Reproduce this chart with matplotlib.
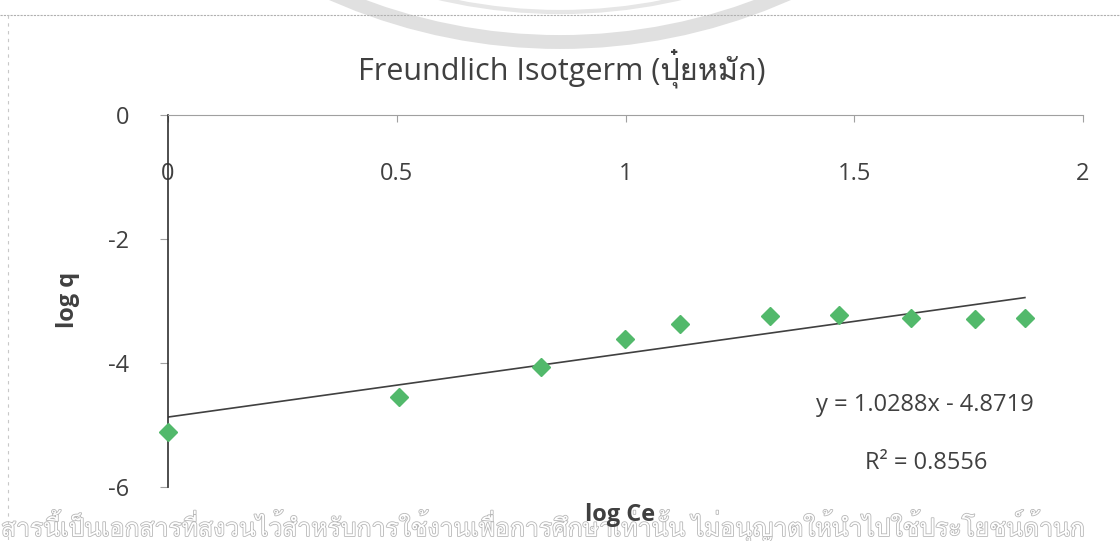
import numpy as np
import matplotlib
matplotlib.use('Agg')
import matplotlib.pyplot as plt
from matplotlib import font_manager
from matplotlib.ft2font import FT2Font
from matplotlib.lines import Line2D
from matplotlib.patches import Circle
import matplotlib.patheffects as pe

# ─── Data ────────────────────────────────────────────────────────────────────
log_ce = [0.0, 0.505, 0.815, 0.999, 1.119, 1.316, 1.467, 1.624, 1.764, 1.873]
log_q = [-5.11, -4.55, -4.06, -3.61, -3.37, -3.24, -3.23, -3.27, -3.29, -3.27]
slope, intercept = 1.0288, -4.8719
r2 = 0.8556
x_ticks = [0, 0.5, 1, 1.5, 2]
x_ticklabels = ['0', '0.5', '1', '1.5', '2']
y_ticks = [0, -2, -4, -6]

title = 'Freundlich Isotgerm (ปุ๋ยหมัก)'
watermark = 'สารนี้เป็นเอกสารที่สงวนไว้สำหรับการใช้งานเพื่อการศึกษาเท่านั้น ไม่อนุญาตให้นำไปใช้ประโยชน์ด้านก'


# ─── Font with Thai glyphs ───────────────────────────────────────────────────
def find_thai_font():
    for f in font_manager.fontManager.ttflist:
        try:
            ft = FT2Font(f.fname)
            if ft.get_char_index(ord('ป')) and ft.get_char_index(ord('ก')):
                return f.name
        except Exception:
            continue
    return None


thai = find_thai_font()
fams = ['Open Sans'] + ([thai] if thai else []) + ['DejaVu Sans']
plt.rcParams['font.family'] = fams
plt.rcParams['axes.unicode_minus'] = False

W, H = 1120, 541
fig = plt.figure(figsize=(W / 100, H / 100), dpi=100)


def fx(px):
    return px / W


def fy(py):
    return 1 - py / H


ax = fig.add_axes([fx(168), fy(487), fx(1083) - fx(168), fy(115) - fy(487)])

# trendline + points
xs = np.array([min(log_ce), max(log_ce)])
ax.plot(xs, slope * xs + intercept, color='#404040', lw=1.2, zorder=2)
ax.plot(log_ce, log_q, ls='none', marker='D', ms=9, color='#52b96b',
        mec='#52b96b', zorder=3, clip_on=False)

ax.set_xlim(0, 2)
ax.set_ylim(-6, 0)
ax.set_xticks(x_ticks)
ax.set_xticklabels(x_ticklabels)
ax.set_yticks(y_ticks)

for s in ['top', 'right']:
    ax.spines[s].set_visible(False)
ax.spines['bottom'].set_position(('data', 0))
ax.spines['bottom'].set_color('#a0a0a0')
ax.spines['left'].set_color('#303030')
ax.spines['left'].set_linewidth(1.2)

ax.tick_params(axis='x', direction='out', length=5, color='#a0a0a0',
               pad=29, labelsize=17, labelcolor='#404040')
ax.tick_params(axis='y', direction='out', length=6, color='#a0a0a0',
               pad=22, labelsize=17, labelcolor='#404040')

fig.text(fx(562), fy(68), title, ha='center', va='center', fontsize=22,
         color='#404040')
fig.text(fx(68), fy(300), 'log q', ha='center', va='center', rotation=90,
         fontsize=17, fontweight='bold', color='#404040')
fig.text(fx(620), fy(515), 'log Ce', ha='center', va='center',
         fontsize=17, fontweight='bold', color='#404040')

fig.text(fx(925), fy(405), f'y = {slope}x - {abs(intercept)}', ha='center',
         va='center', fontsize=17, color='#404040')
fig.text(fx(926), fy(463), f'R² = {r2}', ha='center', va='center',
         fontsize=17, color='#404040')

# chart border (scanned) and watermark
fig.add_artist(Line2D([fx(0), fx(1120)], [fy(15), fy(15)], color='#b0b0b0',
                      lw=0.8, ls=(0, (2, 1))))
fig.add_artist(Line2D([fx(8), fx(8)], [fy(15), fy(541)], color='#c8c8c8',
                      lw=0.8, ls=(0, (3, 4))))

ring_ax = fig.add_axes([0, 0, 1, 1], zorder=-1)
ring_ax.set_xlim(0, W)
ring_ax.set_ylim(H, 0)
ring_ax.axis('off')
ring_ax.add_patch(Circle((560, -520), 562, fill=False, ec='#e0e0e0', lw=10))
ring_ax.add_patch(Circle((560, -520), 532, fill=False, ec='#e6e6e6', lw=3))

fig.text(fx(1), fy(526), watermark, ha='left', va='center', fontsize=17.8,
         color='white',
         path_effects=[pe.withStroke(linewidth=1.2, foreground='#b8b8b8')],
         zorder=-0.5)

fig.savefig('out.png', dpi=100, facecolor='white')
